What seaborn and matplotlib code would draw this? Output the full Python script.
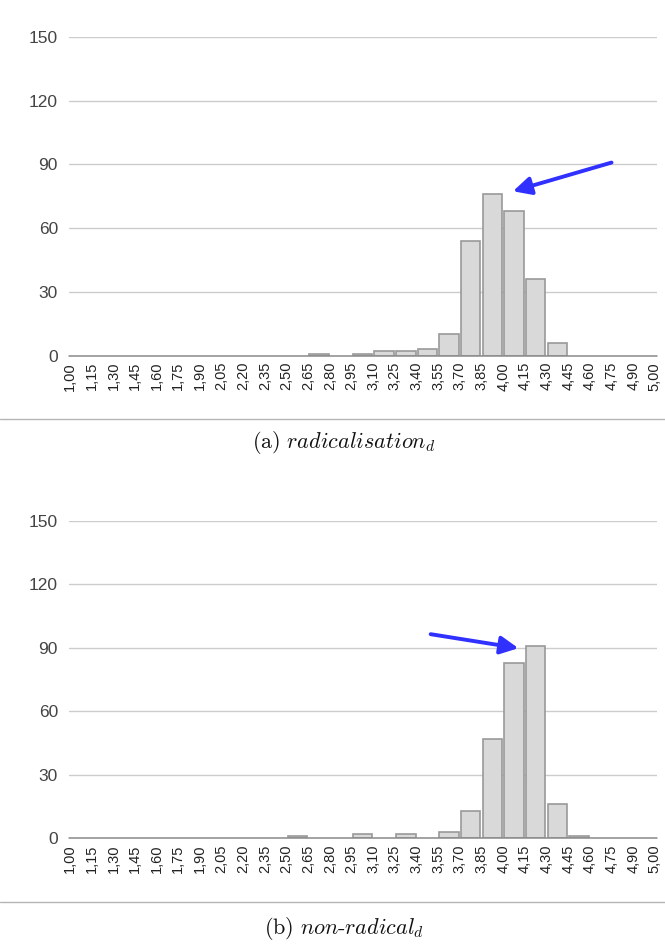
import numpy as np
import pandas as pd
import matplotlib
matplotlib.use("Agg")
import matplotlib.pyplot as plt
import seaborn as sns
from matplotlib.patches import FancyArrowPatch
from matplotlib.lines import Line2D

# Bin edges of the score histogram (decimal comma labels)
edge_labels = ["1,00", "1,15", "1,30", "1,45", "1,60", "1,75", "1,90", "2,05", "2,20",
               "2,35", "2,50", "2,65", "2,80", "2,95", "3,10", "3,25", "3,40", "3,55",
               "3,70", "3,85", "4,00", "4,15", "4,30", "4,45", "4,60", "4,75", "4,90", "5,00"]

# Counts per bin (27 bins between the 28 edges)
radicalisation_counts = [0, 0, 0, 0, 0, 0, 0, 0, 0, 0, 0, 1, 0, 1, 2, 2, 3, 10,
                         54, 76, 68, 36, 6, 0, 0, 0, 0]
non_radical_counts = [0, 0, 0, 0, 0, 0, 0, 0, 0, 0, 1, 0, 0, 2, 0, 2, 0, 3,
                      13, 47, 83, 91, 16, 1, 0, 0, 0]

y_ticks = [0, 30, 60, 90, 120, 150]

# Arrow endpoints in (edge index, count) coordinates: (tail, head)
arrow_a = ((25.0, 90.9), (20.45, 77.4))
arrow_b = ((16.65, 96.4), (20.7, 89.8))

captions = [r"$\mathrm{(a)}\ \mathit{radicalisation}_{d}$",
            r"$\mathrm{(b)}\ \mathit{non}\text{-}\mathit{radical}_{d}$"]

sns.set_style("white")
plt.rcParams["font.family"] = ["Liberation Sans", "DejaVu Sans"]
plt.rcParams["mathtext.fontset"] = "cm"

fig = plt.figure(figsize=(6.65, 9.44), dpi=100)

axes_boxes = [
    [69 / 665, 1 - 355.7 / 944, 588 / 665, 318.7 / 944],
    [69 / 665, 1 - 838.3 / 944, 588 / 665, 317.6 / 944],
]

n_bins = len(edge_labels) - 1
edges = np.arange(n_bins + 1)
centers = edges[:-1] + 0.5


def draw_panel(ax, counts, arrow):
    df = pd.DataFrame({"pos": centers, "count": counts})
    sns.histplot(data=df, x="pos", weights="count", binwidth=1, binrange=(0, n_bins),
                 shrink=0.9, color="#d9d9d9", edgecolor="#999999", linewidth=1.2,
                 alpha=1.0, ax=ax, zorder=3)
    # empty bins are left undrawn; only the baseline shows there
    for patch in ax.patches:
        if patch.get_height() == 0:
            patch.set_visible(False)
    ax.set_xlim(-0.05, 27.1)
    ax.set_ylim(0, 150)
    ax.set_yticks(y_ticks)
    ax.set_yticklabels([str(v) for v in y_ticks], fontsize=12.5, color="#444444")
    ax.set_xticks(edges)
    ax.set_xticklabels(edge_labels, rotation=90, fontsize=10.5, color="#222222",
                       va="top", ha="center")
    ax.tick_params(axis="y", length=0, pad=8)
    ax.tick_params(axis="x", length=3, width=1.5, color="#333333",
                   direction="inout", pad=3)
    ax.set_xlabel("")
    ax.set_ylabel("")
    for s in ax.spines.values():
        s.set_visible(False)
    ax.yaxis.grid(True, color="#cccccc", linewidth=1.0, zorder=0)
    ax.xaxis.grid(False)
    ax.set_axisbelow(True)
    ax.axhline(0, color="#8a8a8a", linewidth=1.1, zorder=4, clip_on=False)
    (x0, y0), (x1, y1) = arrow
    ax.add_patch(FancyArrowPatch((x0, y0), (x1, y1), arrowstyle="-|>",
                                 mutation_scale=27, color="#3030ff",
                                 linewidth=2.8, zorder=6,
                                 shrinkA=0, shrinkB=0))


for box, counts, arrow in zip(axes_boxes, [radicalisation_counts, non_radical_counts],
                              [arrow_a, arrow_b]):
    ax = fig.add_axes(box)
    draw_panel(ax, counts, arrow)

# Separator rules and sub-captions
for y_line, y_cap, cap in [(1 - 419 / 944, 1 - 442 / 944, captions[0]),
                           (1 - 902 / 944, 1 - 928 / 944, captions[1])]:
    fig.add_artist(Line2D([0, 1], [y_line, y_line], transform=fig.transFigure,
                          color="#b5b5b5", linewidth=1.0))
    fig.text(343.5 / 665, y_cap, cap, ha="center", va="center", fontsize=16,
             color="#111111")

fig.savefig("out.png", dpi=100)
